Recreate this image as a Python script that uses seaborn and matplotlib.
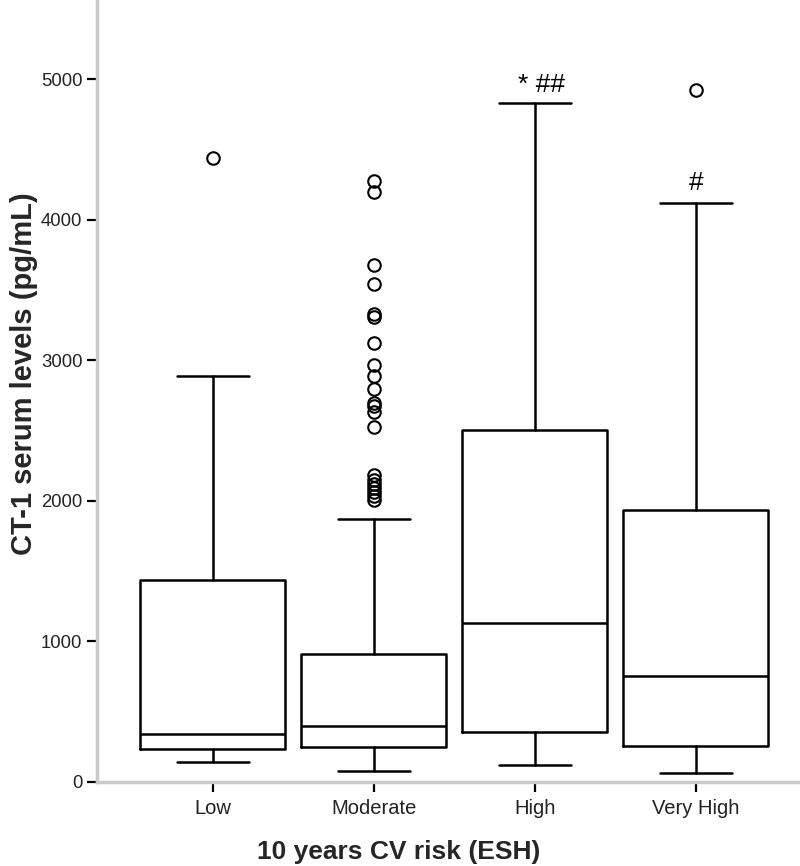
import matplotlib
matplotlib.use("Agg")
import matplotlib.pyplot as plt
import seaborn as sns

sns.set_style("white")
plt.rcParams['font.family'] = ['Liberation Sans', 'DejaVu Sans']

# data (pg/mL)
groups = ["Low", "Moderate", "High", "Very High"]
whislo = [142, 78, 121, 64]
q1 = [235, 249, 356, 256]
med = [341, 398, 1131, 754]
q3 = [1437, 910, 2503, 1935]
whishi = [2890, 1870, 4829, 4118]
out_low = [4438]
out_moderate = [4274, 4196, 3677, 3542, 3329, 3310, 3122, 2966, 2888, 2795,
                2696, 2674, 2632, 2525, 2183, 2148, 2119, 2091, 2063, 2034, 2006]
out_high = []
out_veryhigh = [4922]
outliers = [out_low, out_moderate, out_high, out_veryhigh]
marks = ["", "", "* ##", "#"]

stats = []
for i, g in enumerate(groups):
    stats.append(dict(label=g, whislo=whislo[i], q1=q1[i], med=med[i],
                      q3=q3[i], whishi=whishi[i], fliers=outliers[i]))

fig = plt.figure(figsize=(8, 8.66), dpi=100)
ax = fig.add_axes([97/800, 1-782/866, 1-97/800, 782/866])

lw = 1.8
ax.bxp(stats, positions=range(len(groups)), widths=0.9, capwidths=0.45,
       boxprops=dict(color="black", linewidth=lw),
       medianprops=dict(color="black", linewidth=lw),
       whiskerprops=dict(color="black", linewidth=lw),
       capprops=dict(color="black", linewidth=lw),
       flierprops=dict(marker="o", markerfacecolor="none", markeredgecolor="black",
                       markersize=9, markeredgewidth=1.5))

for i, m in enumerate(marks):
    if m:
        ax.text(i + 0.04 if i == 2 else i, whishi[i] + (40 if i == 2 else 60), m,
                ha="center", va="bottom", fontsize=19, color="black")

ax.set_xlim(-0.72, -0.72 + 703/161)
ax.set_ylim(0, 5562)
ax.set_yticks([0, 1000, 2000, 3000, 4000, 5000])
ax.set_xticks(range(len(groups)))
ax.set_xticklabels(groups)

sns.despine(ax=ax)
for s in ["left", "bottom"]:
    ax.spines[s].set_color("#c8c8c8")
    ax.spines[s].set_linewidth(2.5)
ax.tick_params(axis="both", direction="out", length=7.5, width=1.6, color="black",
               labelsize=13.3, labelcolor="#222222", pad=3,
               left=True, bottom=True)
ax.tick_params(axis="x", labelsize=14.5, pad=5)

ax.set_xlabel("10 years CV risk (ESH)", fontsize=19, fontweight="bold", va="center")
ax.set_ylabel("CT-1 serum levels (pg/mL)", fontsize=21, fontweight="bold", va="center")
ax.xaxis.set_label_coords((399 - 97) / 703, (782 - 852) / 782)
ax.yaxis.set_label_coords((24 - 97) / 703, (782 - 374) / 782)

fig.savefig("out.png", dpi=100)
